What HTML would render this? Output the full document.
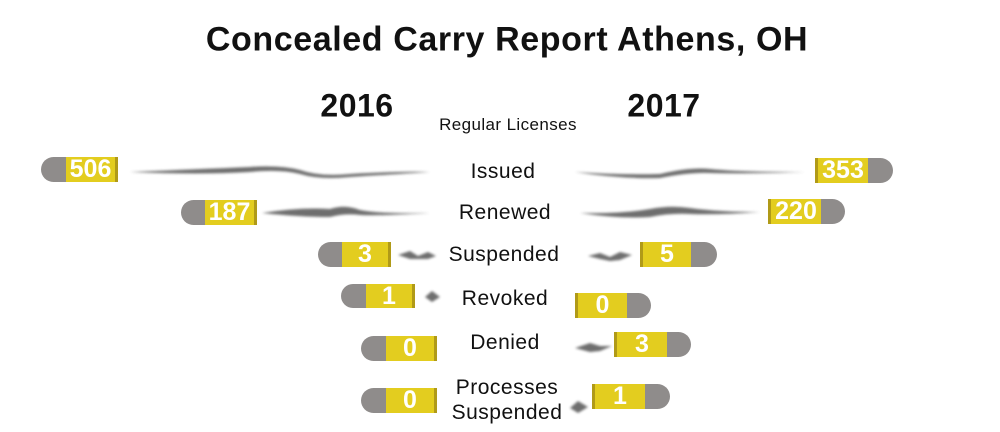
<!DOCTYPE html><html><head><style>
body{margin:0;width:1000px;height:432px;background:#fff;position:relative;overflow:hidden;font-family:"Liberation Sans",sans-serif;color:#111}
.t{position:absolute;white-space:nowrap;transform:translate(-50%,-50%)}
.lb{font-size:21px;letter-spacing:0.5px}
.c{position:absolute;background:#e3cd1f;color:#fff;font-weight:bold;font-size:25px;text-align:center;display:flex;align-items:center;justify-content:center}
.tip{position:absolute;background:#8f8c8b}
.L{border-radius:13px 0 0 13px}.R{border-radius:0 13px 13px 0}
.rl{border-right:3px solid #b09a18}.rr{border-left:3px solid #b09a18}
</style></head><body>
<div class="t" style="left:507px;top:40px;font-size:34px;font-weight:bold;letter-spacing:0.6px">Concealed Carry Report Athens, OH</div>
<div class="t" style="left:357px;top:106px;font-size:32px;font-weight:bold;letter-spacing:0.5px">2016</div>
<div class="t" style="left:664px;top:106px;font-size:32px;font-weight:bold;letter-spacing:0.5px">2017</div>
<div class="t" style="left:508px;top:125px;font-size:17px;letter-spacing:0.4px">Regular Licenses</div>
<div class="t lb" style="left:503px;top:172px">Issued</div>
<div class="t lb" style="left:505px;top:213px">Renewed</div>
<div class="t lb" style="left:504px;top:255px">Suspended</div>
<div class="t lb" style="left:505px;top:299px">Revoked</div>
<div class="t lb" style="left:505px;top:343px">Denied</div>
<div class="t lb" style="left:507px;top:400px;text-align:center;line-height:25px">Processes<br>Suspended</div>
<svg width="1000" height="432" style="position:absolute;left:0;top:0">
<defs><filter id="b"><feGaussianBlur stdDeviation="1.2"/></filter></defs>
<g fill="#555" filter="url(#b)" opacity=".85">
<path d="M130 172 Q200 169 250 167 Q280 165 300 170 Q320 177 350 174 Q400 171 430 172 Q400 174 350 177 Q320 180 300 174 Q280 169 250 172 Q200 175 130 172Z"/>
<path d="M575 172 Q620 175 660 174 Q690 167 710 169 Q740 172 805 172 Q740 174 710 173 Q690 172 660 178 Q620 179 575 172Z"/>
<path d="M262 213 Q300 207 330 209 Q345 204 360 210 Q380 214 430 213 Q380 216 360 215 Q345 213 330 217 Q300 217 262 213Z"/>
<path d="M580 213 Q620 214 650 209 Q670 205 690 208 Q720 212 760 212 Q720 215 690 214 Q670 213 650 217 Q620 219 580 213Z"/>
<path d="M398 255 L410 251 L418 256 L428 252 L436 256 L428 259 L418 259 L410 259Z"/>
<path d="M588 256 L600 253 L610 257 L620 252 L632 255 L620 260 L610 261 L600 259Z"/>
<path d="M425 297 L432 291 L440 297 L432 302Z"/>
<path d="M575 348 L590 343 L600 346 L612 346 L600 351 L590 352Z"/>
<path d="M570 408 L578 401 L588 407 L578 413Z"/>
</g></svg>
<div class="tip L" style="left:41px;top:157px;width:26px;height:25px"></div><div class="c rl" style="left:66px;top:157px;width:49px;height:25px">506</div>
<div class="tip L" style="left:181px;top:200px;width:26px;height:25px"></div><div class="c rl" style="left:205px;top:200px;width:49px;height:25px">187</div>
<div class="tip L" style="left:318px;top:242px;width:26px;height:25px"></div><div class="c rl" style="left:342px;top:242px;width:46px;height:25px">3</div>
<div class="tip L" style="left:341px;top:284px;width:27px;height:24px"></div><div class="c rl" style="left:366px;top:284px;width:46px;height:24px">1</div>
<div class="tip L" style="left:361px;top:336px;width:27px;height:25px"></div><div class="c rl" style="left:386px;top:336px;width:48px;height:25px">0</div>
<div class="tip L" style="left:361px;top:388px;width:27px;height:25px"></div><div class="c rl" style="left:386px;top:388px;width:48px;height:25px">0</div>
<div class="c rr" style="left:815px;top:158px;width:50px;height:25px">353</div><div class="tip R" style="left:868px;top:158px;width:25px;height:25px"></div>
<div class="c rr" style="left:768px;top:199px;width:50px;height:25px">220</div><div class="tip R" style="left:821px;top:199px;width:24px;height:25px"></div>
<div class="c rr" style="left:640px;top:242px;width:48px;height:25px">5</div><div class="tip R" style="left:691px;top:242px;width:26px;height:25px"></div>
<div class="c rr" style="left:575px;top:293px;width:49px;height:25px">0</div><div class="tip R" style="left:627px;top:293px;width:24px;height:25px"></div>
<div class="c rr" style="left:614px;top:332px;width:50px;height:25px">3</div><div class="tip R" style="left:667px;top:332px;width:24px;height:25px"></div>
<div class="c rr" style="left:592px;top:384px;width:50px;height:25px">1</div><div class="tip R" style="left:645px;top:384px;width:25px;height:25px"></div>
</body></html>
